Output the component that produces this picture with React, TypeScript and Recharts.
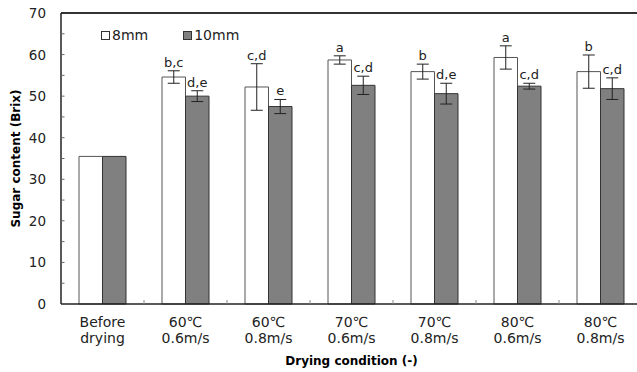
import React from "react";
import {
  BarChart,
  Bar,
  XAxis,
  YAxis,
  ErrorBar,
  LabelList,
  Label,
  Legend,
  ReferenceLine,
} from "recharts";

const CATEGORY_TOP = ["Before", "60℃", "60℃", "70℃", "70℃", "80℃", "80℃"];
const CATEGORY_BOTTOM = ["drying", "0.6m/s", "0.8m/s", "0.6m/s", "0.8m/s", "0.6m/s", "0.8m/s"];

const MM8 = [35.5, 54.6, 52.2, 58.7, 55.9, 59.3, 55.9];
const MM10 = [35.5, 50.0, 47.5, 52.6, 50.6, 52.4, 51.8];
const ERR8 = [null, 1.5, 5.6, 1.0, 1.8, 2.8, 4.0];
const ERR10 = [null, 1.3, 1.7, 2.2, 2.5, 0.7, 2.6];
const LETTERS8 = ["", "b,c", "c,d", "a", "b", "a", "b"];
const LETTERS10 = ["", "d,e", "e", "c,d", "d,e", "c,d", "c,d"];

const Y_TICKS = [0, 5, 10, 15, 20, 25, 30, 35, 40, 45, 50, 55, 60, 65, 70];

const FONT = "'DejaVu Sans', sans-serif";
const INK = "#222";

const data = CATEGORY_TOP.map((top, i) => ({
  name: top + " " + CATEGORY_BOTTOM[i],
  top,
  bottom: CATEGORY_BOTTOM[i],
  mm8: MM8[i],
  mm10: MM10[i],
  e8: ERR8[i],
  e10: ERR10[i],
  l8: LETTERS8[i],
  l10: LETTERS10[i],
}));

const YTick = (props: any) => {
  const { x, y, payload } = props;
  const v = payload.value;
  return (
    <g>
      {v % 10 === 0 && (
        <text x={x} y={y} dy={5} textAnchor="end" fontFamily={FONT} fontSize={13.5} fill={INK}>
          {v}
        </text>
      )}
      {v > 0 && v < 70 && <line x1={x + 15} x2={x + 18.5} y1={y} y2={y} stroke="#666" strokeWidth={1} />}
    </g>
  );
};

const XTick = (props: any) => {
  const { x, y, index, payload } = props;
  const row = data[index];
  // width of one category band = plot width / number of categories
  const band = 581 / data.length;
  return (
    <g>
      <text x={x} y={y + 23} textAnchor="middle" fontFamily={FONT} fontSize={14} fill={INK}>
        {row ? row.top : payload.value}
      </text>
      <text x={x} y={y + 39} textAnchor="middle" fontFamily={FONT} fontSize={14} fill={INK}>
        {row ? row.bottom : ""}
      </text>
      {index > 0 && (
        <line x1={x - band / 2} x2={x - band / 2} y1={y} y2={y - 4} stroke="#888" strokeWidth={1} />
      )}
    </g>
  );
};

// letter above the error bar; pixels per unit taken from the bar's own height
const letterRenderer = (errs: (number | null)[], vals: number[]) => (props: any) => {
  const { x, y, width, height, value, index } = props;
  if (!value) return null;
  const err = errs[index] || 0;
  const perUnit = height / vals[index];
  const topY = y - err * perUnit;
  return (
    <text x={x + width / 2} y={topY - 4} textAnchor="middle" fontFamily={FONT} fontSize={13} fill={INK}>
      {value}
    </text>
  );
};

const LegendBox = () => (
  <div style={{ display: "flex", alignItems: "center", fontFamily: FONT, fontSize: 14, color: INK, lineHeight: "16px" }}>
    <span style={{ width: 7, height: 7, border: "1px solid #333", background: "#fff", marginRight: 2 }} />
    <span style={{ marginRight: 35 }}>8mm</span>
    <span style={{ width: 7, height: 7, border: "1px solid #333", background: "#808080", marginRight: 2 }} />
    <span>10mm</span>
  </div>
);

export default function App() {
  return (
    <div
      style={{
        position: "fixed",
        left: 0,
        top: 0,
        width: 637,
        height: 372,
        overflow: "hidden",
        background: "#fff",
      }}
    >
      <BarChart
        width={637}
        height={372}
        data={data}
        margin={{ top: 13, right: -5, bottom: 28, left: 0 }}
        barGap={0}
        barSize={23.5}
      >
        <XAxis
          dataKey="name"
          height={40}
          interval={0}
          tickLine={false}
          tickSize={0}
          tickMargin={0}
          tick={<XTick />}
          axisLine={{ stroke: INK, strokeWidth: 1.5 }}
        >
          <Label
            content={(p: any) => {
              const vb = p.viewBox;
              return (
                <text
                  x={vb.x + vb.width / 2}
                  y={vb.y + 61}
                  textAnchor="middle"
                  fontFamily={FONT}
                  fontWeight="bold"
                  fontSize={12}
                  fill="#000"
                >
                  Drying condition (-)
                </text>
              );
            }}
          />
        </XAxis>
        <YAxis
          width={61}
          domain={[0, 70]}
          ticks={Y_TICKS}
          interval={0}
          tickLine={false}
          tickSize={0}
          tickMargin={15}
          tick={<YTick />}
          axisLine={{ stroke: INK, strokeWidth: 1.5 }}
        >
          <Label
            content={(p: any) => {
              const vb = p.viewBox;
              const cx = vb.x + 16;
              const cy = vb.y + vb.height / 2;
              return (
                <text
                  x={cx}
                  y={cy}
                  transform={`rotate(-90 ${cx} ${cy})`}
                  textAnchor="middle"
                  dominantBaseline="central"
                  fontFamily={FONT}
                  fontWeight="bold"
                  fontSize={12}
                  fill="#000"
                >
                  Sugar content (Brix)
                </text>
              );
            }}
          />
        </YAxis>
        <ReferenceLine y={70} stroke="#333" strokeWidth={2} />
        <Legend
          layout="horizontal"
          verticalAlign="middle"
          align="center"
          content={<LegendBox />}
          wrapperStyle={{ top: 27, left: 101, width: 220, height: 16 }}
        />
        <Bar dataKey="mm8" name="8mm" fill="#fff" stroke="#555" strokeWidth={1} isAnimationActive={false}>
          <ErrorBar dataKey="e8" width={6} stroke={INK} strokeWidth={1} direction="y" />
          <LabelList dataKey="l8" content={letterRenderer(ERR8, MM8)} />
        </Bar>
        <Bar dataKey="mm10" name="10mm" fill="#808080" stroke="#333" strokeWidth={1} isAnimationActive={false}>
          <ErrorBar dataKey="e10" width={6} stroke={INK} strokeWidth={1} direction="y" />
          <LabelList dataKey="l10" content={letterRenderer(ERR10, MM10)} />
        </Bar>
      </BarChart>
    </div>
  );
}
